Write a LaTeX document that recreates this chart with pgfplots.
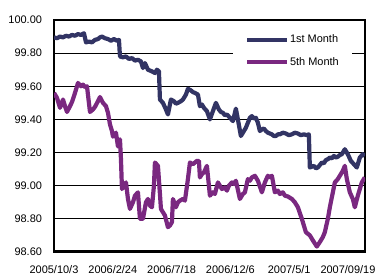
\documentclass[border=0pt]{standalone}
\usepackage{fontspec}
\setmainfont{Liberation Sans}
\usepackage{pgfplots}
\pgfplotsset{compat=1.18}
\usepackage{pgfplotstable}
\definecolor{navy}{RGB}{50,52,100}
\definecolor{purp}{RGB}{122,40,128}

\pgfplotstableread{
px v
54 99.895
57 99.89
60 99.90
63 99.895
66 99.905
69 99.90
72 99.91
75 99.905
78 99.915
81 99.91
84 99.92
86 99.865
89 99.87
92 99.865
95 99.88
98 99.885
100 99.895
102 99.90
105 99.89
108 99.885
111 99.875
114 99.885
117 99.875
119 99.88
120 99.78
123 99.775
126 99.78
129 99.765
132 99.77
135 99.755
138 99.76
141 99.75
143 99.71
145 99.74
148 99.70
152 99.69
155 99.68
157 99.70
159 99.69
160 99.52
163 99.50
166 99.46
168 99.43
171 99.52
174 99.51
176 99.495
178 99.50
181 99.51
183 99.52
186 99.55
188 99.585
191 99.575
193 99.565
195 99.56
198 99.55
200 99.48
202 99.49
204 99.47
207 99.45
210 99.40
213 99.45
216 99.50
219 99.46
221 99.445
223 99.44
225 99.425
227 99.43
230 99.41
233 99.39
236 99.465
238 99.40
241 99.30
244 99.33
246 99.35
248 99.38
250 99.41
252 99.42
254 99.405
256 99.41
258 99.38
260 99.33
262 99.34
264 99.345
266 99.33
268 99.32
270 99.315
272 99.31
274 99.30
276 99.30
278 99.31
280 99.31
283 99.32
286 99.315
289 99.305
292 99.31
295 99.32
298 99.315
301 99.305
304 99.31
307 99.305
309 99.31
310 99.11
312 99.115
314 99.12
316 99.105
318 99.11
320 99.125
322 99.14
324 99.135
326 99.155
328 99.16
330 99.17
332 99.165
334 99.18
336 99.17
338 99.175
340 99.185
342 99.19
345 99.22
348 99.19
351 99.15
354 99.13
357 99.11
360 99.17
363 99.19
365 99.18
}\firstmonth

\pgfplotstableread{
px v
54 99.56
57 99.53
60 99.47
63 99.52
65 99.48
67 99.445
70 99.48
72 99.505
75 99.56
78 99.62
81 99.60
83 99.61
85 99.595
87 99.60
90 99.445
93 99.46
95 99.476
98 99.51
100 99.535
103 99.50
106 99.48
108 99.44
110 99.37
112 99.33
113 99.296
116 99.32
118 99.237
120 99.28
121 99.16
122 98.98
124 99.00
126 99.02
128 98.92
130 98.86
133 98.90
135 98.94
138 98.96
140 98.80
143 98.80
146 98.90
148 98.92
150 98.88
152 98.87
154 99.00
155 99.14
158 99.12
160 98.95
161 98.86
163 98.84
165 98.82
168 98.75
170 98.76
172 98.78
173 98.92
176 98.87
178 98.90
180 98.91
183 98.92
185 98.91
188 99.04
190 99.14
193 99.13
195 99.14
197 99.15
199 99.15
200 99.05
202 99.07
204 99.08
207 99.12
210 98.94
213 98.96
215 98.95
218 99.02
220 99.00
222 98.98
225 98.99
227 98.97
229 99.00
232 99.02
234 99.01
236 99.03
240 98.92
243 98.95
245 98.96
248 99.04
250 99.03
252 99.05
255 99.06
258 99.03
262 98.96
265 99.02
268 99.06
270 99.05
272 99.06
275 98.96
278 98.97
280 98.95
283 98.96
285 98.94
288 98.935
292 98.92
295 98.90
298 98.87
302 98.80
306 98.72
310 98.70
313 98.67
317 98.633
320 98.66
323 98.69
325 98.72
328 98.80
330 98.87
333 98.96
335 99.02
338 99.04
340 99.06
343 99.09
345 99.12
347 99.04
350 98.96
353 98.92
355 98.87
358 98.94
362 99.02
365 99.05
}\fifthmonth

\begin{document}
\begin{tikzpicture}
\useasboundingbox (0,0) rectangle (376bp,277bp);
\begin{axis}[
  at={(54bp,25bp)}, anchor=south west,
  scale only axis, width=311bp, height=232bp,
  xmin=0, xmax=529, ymin=98.6, ymax=100,
  xtick={0,100,200,300,400,500},
  xticklabels={2005/10/3,2006/2/24,2006/7/18,2006/12/6,2007/5/1,2007/09/19},
  ytick={98.6,98.8,99,99.2,99.4,99.6,99.8,100},
  yticklabel style={/pgf/number format/fixed, /pgf/number format/fixed zerofill,
    /pgf/number format/precision=2, /pgf/number format/assume math mode=true, xshift=-8.5bp},
  xticklabel style={yshift=-10bp},
  tick label style={font=\fontsize{11}{13}\selectfont},
  major tick length=0pt,
  ymajorgrids, grid style={black, line width=0.8bp},
  axis line style={line width=2.5bp},
  legend cell align=left,
  legend image code/.code={\draw[#1, line width=4bp] (0bp,0bp) -- (40bp,0bp);},
  legend style={at={(axis description cs:0.575,0.975)}, anchor=north west,
    draw=none, fill=white, font=\fontsize{11}{13}\selectfont,
    inner xsep=12bp, inner ysep=7bp, row sep=9bp,
    nodes={inner xsep=1bp}},
]
\addplot[navy, line width=4.2bp, line join=round] table[x expr={(\thisrow{px}-54)*1.7}, y=v] {\firstmonth};
\addlegendentry{1st Month}
\addplot[purp, line width=4.2bp, line join=round] table[x expr={(\thisrow{px}-54)*1.7}, y=v] {\fifthmonth};
\addlegendentry{5th Month}
\draw[line width=4.5bp] (rel axis cs:0,0) -- (rel axis cs:1,0);
\end{axis}
\end{tikzpicture}
\end{document}
